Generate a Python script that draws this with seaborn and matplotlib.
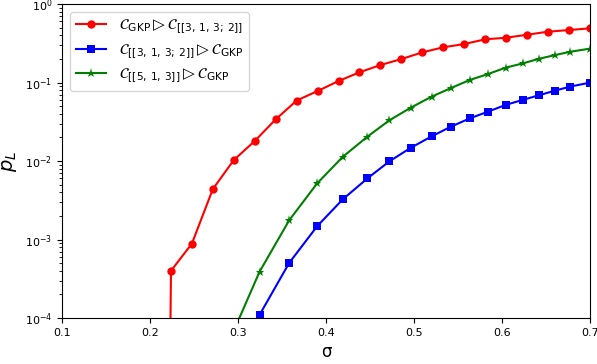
import numpy as np
import pandas as pd
import seaborn as sns
import matplotlib
matplotlib.use("Agg")
import matplotlib.pyplot as plt

# sigma grid and logical error rates
sigma_red = [0.2, 0.2238, 0.2476, 0.2714, 0.2952, 0.3190, 0.3429, 0.3667, 0.3905,
             0.4143, 0.4381, 0.4619, 0.4857, 0.5095, 0.5333, 0.5571, 0.5810,
             0.6048, 0.6286, 0.6524, 0.6762, 0.7]
pl_red = [1e-30, 4.0e-4, 8.9e-4, 4.4e-3, 1.03e-2, 1.8e-2, 3.4e-2, 5.9e-2, 7.8e-2,
          0.1045, 0.135, 0.167, 0.199, 0.242, 0.281, 0.309, 0.355,
          0.372, 0.406, 0.444, 0.466, 0.490]

sigma_bg = [0.286, 0.3245, 0.3583, 0.390, 0.419, 0.447, 0.472, 0.4966, 0.520,
            0.542, 0.5636, 0.584, 0.6045, 0.6235, 0.6424, 0.6606, 0.678, 0.7]
pl_blue = [2e-5, 1.1e-4, 5.07e-4, 1.48e-3, 3.25e-3, 6.0e-3, 9.9e-3, 1.48e-2, 2.06e-2,
           2.74e-2, 3.5e-2, 4.25e-2, 5.2e-2, 6.0e-2, 6.9e-2, 7.9e-2, 8.9e-2, 0.0996]
pl_green = [4e-5, 3.9e-4, 1.77e-3, 5.2e-3, 1.13e-2, 2.04e-2, 3.3e-2, 4.8e-2, 6.6e-2,
            8.5e-2, 0.108, 0.128, 0.155, 0.175, 0.201, 0.224, 0.247, 0.270]

label_red = r'$\mathcal{C}_{\rm GKP}\rhd\mathcal{C}_{[[3,\,1,\,3;\,2]]}$'
label_blue = r'$\mathcal{C}_{[[3,\,1,\,3;\,2]]}\rhd\mathcal{C}_{\rm GKP}$'
label_green = r'$\mathcal{C}_{[[5,\,1,\,3]]}\rhd\mathcal{C}_{\rm GKP}$'

fig, ax = plt.subplots(figsize=(5.97, 3.64), dpi=100)
ax.set_yscale('log', nonpositive='clip')

sns.lineplot(x=sigma_red, y=pl_red, ax=ax, color='red', marker='o', markersize=6,
             markeredgewidth=0, label=label_red, sort=False, estimator=None)
sns.lineplot(x=sigma_bg, y=pl_blue, ax=ax, color='blue', marker='s', markersize=6,
             markeredgewidth=0, label=label_blue, sort=False, estimator=None)
sns.lineplot(x=sigma_bg, y=pl_green, ax=ax, color='green', marker='*', markersize=6.5,
             markeredgewidth=0, label=label_green, sort=False, estimator=None)

ax.set_xlim(0.1, 0.7)
ax.set_ylim(1e-4, 1)
ax.set_xticks([0.1, 0.2, 0.3, 0.4, 0.5, 0.6, 0.7])
ax.tick_params(labelsize=8)
ax.set_xlabel('σ', fontsize=12)
ax.set_ylabel(r'$p_L$', fontsize=14)
ax.legend(loc='upper left', fontsize=11, labelspacing=0.38)

fig.subplots_adjust(left=0.104, right=0.988, top=0.989, bottom=0.126)
fig.savefig('out.png', dpi=100)
